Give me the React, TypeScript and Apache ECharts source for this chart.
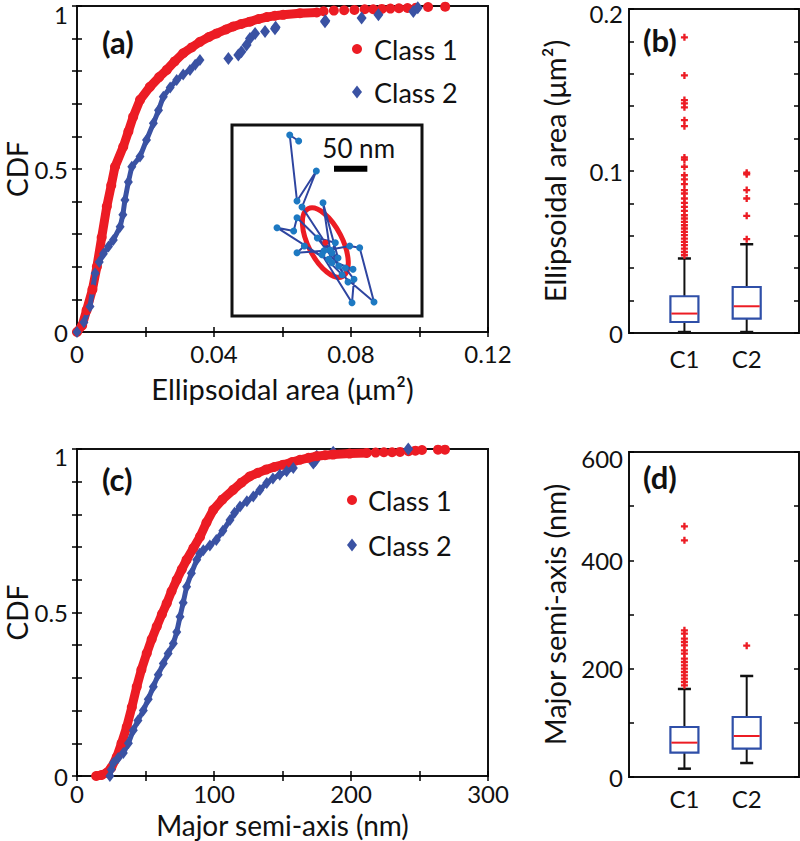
import React, { useEffect, useRef } from 'react';
import * as echarts from 'echarts';

// ---------- data ----------
// Panel (a): CDF of ellipsoidal area (µm²)
const areaClass1Curve = [
  [0, 0], [0.0015, 0.02], [0.0028, 0.067], [0.0045, 0.13], [0.0058, 0.2], [0.0072, 0.29], [0.0087, 0.385],
  [0.01, 0.45], [0.0111, 0.507], [0.0135, 0.568], [0.015, 0.615], [0.0164, 0.66], [0.0184, 0.712],
  [0.0213, 0.752], [0.024, 0.782], [0.0262, 0.804], [0.0285, 0.83], [0.031, 0.855], [0.0335, 0.873],
  [0.0359, 0.89], [0.0385, 0.905], [0.0408, 0.916], [0.0435, 0.928], [0.0456, 0.937], [0.048, 0.945],
  [0.0505, 0.952], [0.053, 0.96], [0.0554, 0.966], [0.0578, 0.97], [0.0602, 0.973], [0.0651, 0.978], [0.07, 0.98],
];
const areaClass1Tail = [
  [0.072, 0.984], [0.075, 0.986], [0.078, 0.987], [0.081, 0.988], [0.084, 0.99], [0.0865, 0.99],
  [0.089, 0.991], [0.0915, 0.992], [0.094, 0.993], [0.0965, 0.994], [0.099, 0.995], [0.1025, 0.997], [0.1075, 0.998],
];
const areaClass2Curve = [
  [0, 0], [0.002, 0.03], [0.0038, 0.078], [0.0053, 0.18], [0.0065, 0.215], [0.0077, 0.24], [0.0092, 0.262],
  [0.0106, 0.282], [0.0126, 0.323], [0.0134, 0.36], [0.014, 0.405], [0.015, 0.46], [0.016, 0.507],
  [0.0184, 0.538], [0.0203, 0.589], [0.0223, 0.64], [0.0238, 0.68], [0.0252, 0.722], [0.0272, 0.75],
  [0.0291, 0.773], [0.031, 0.79], [0.033, 0.804], [0.0345, 0.82], [0.0359, 0.834],
];
const areaClass2Tail = [
  [0.0442, 0.839], [0.0471, 0.85], [0.048, 0.86], [0.0495, 0.88], [0.0505, 0.9], [0.052, 0.916],
  [0.0549, 0.922], [0.0578, 0.93], [0.058, 0.935], [0.0724, 0.952], [0.0725, 0.955], [0.0831, 0.963],
  [0.088, 0.973], [0.0982, 0.983], [0.0995, 0.995],
];

// Panel (c): CDF of major semi-axis (nm)
const axisClass1Curve = [
  [14, 0], [18, 0.003], [21.7, 0.01], [25, 0.025], [29, 0.058], [32.5, 0.1], [36.3, 0.15], [40, 0.21],
  [43.6, 0.273], [47, 0.325], [50.9, 0.375], [54.5, 0.418], [58.2, 0.457], [62, 0.495], [65.5, 0.528],
  [69, 0.565], [72.8, 0.6], [76.5, 0.632], [80, 0.661], [85, 0.697], [89.8, 0.732], [94.5, 0.775],
  [99.5, 0.814], [106, 0.845], [114, 0.875], [120, 0.897], [126, 0.916], [132, 0.927], [138, 0.937],
  [144, 0.945], [150.6, 0.952], [157, 0.96], [162.8, 0.967], [169, 0.973], [175, 0.978], [181, 0.981],
  [187, 0.983], [199, 0.986], [211.5, 0.988],
];
const axisClass1Tail = [
  [218, 0.989], [224, 0.99], [230, 0.99], [235.8, 0.991], [242, 0.993], [247, 0.995], [251.8, 0.997],
  [263.5, 0.998], [268.6, 0.998],
];
const axisClass2Curve = [
  [24, 0], [25, 0.02], [26.5, 0.04], [30, 0.055], [33.8, 0.07], [37.5, 0.1], [41.1, 0.14], [44.5, 0.17],
  [48.4, 0.2], [52, 0.235], [55.7, 0.273], [59.3, 0.31], [63, 0.344], [66.5, 0.375], [70.3, 0.405],
  [72.8, 0.44], [75.2, 0.487], [77.5, 0.53], [80, 0.579], [83.5, 0.62], [87.4, 0.661], [89.5, 0.68],
  [92.2, 0.69], [97, 0.705], [101.7, 0.722], [106.5, 0.75], [111.7, 0.783], [115, 0.805], [119, 0.824],
  [124, 0.84], [128.7, 0.855], [133.5, 0.875], [138.5, 0.896], [143, 0.91], [148, 0.921], [153, 0.932],
  [157.9, 0.942],
];
const axisClass2Tail = [
  [172.5, 0.957], [174, 0.965], [175, 0.978], [187, 0.99], [241.8, 1.0],
];

// Panels (b), (d): box plots [min, Q1, median, Q3, max] and outliers
const boxCategories = ['C1', 'C2'];
const areaBoxC1 = [0.0006, 0.0068, 0.012, 0.0227, 0.046];
const areaBoxC2 = [0.0006, 0.0089, 0.0165, 0.0284, 0.0548];
const areaOutC1 = [
  0.1825, 0.159, 0.1438, 0.1417, 0.1393, 0.1314, 0.1277, 0.1084, 0.1071, 0.1026, 0.0974, 0.0948, 0.0919,
  0.0882, 0.0861, 0.083, 0.0803, 0.0779, 0.0754, 0.0727, 0.0707, 0.0686, 0.0665, 0.0645, 0.0624, 0.0604,
  0.0583, 0.0562, 0.0542, 0.0521, 0.05, 0.048,
];
const areaOutC2 = [0.0989, 0.098, 0.0882, 0.083, 0.0723, 0.0579];
const axisBoxC1 = [15.4, 44.9, 63.4, 92.3, 162.5];
const axisBoxC2 = [25.8, 52.3, 75.7, 110.8, 186.5];
const axisOutC1 = [
  462.8, 436.9, 270.8, 264.6, 255.4, 249.2, 243.1, 233.8, 227.7, 218.5, 212.3, 206.2, 200, 193.8, 187.7,
  181.5, 175.4, 169.2,
];
const axisOutC2 = [242.5];

// Inset: trajectory (nm) and fitted ellipse [cx, cy, semiMinor, semiMajor, tiltDeg]
const insetTrajectory = [
  [100, 262.5], [86.6, 271.5], [97.5, 172.5], [126.5, 217.5], [105, 163.5], [147, 99], [136.5, 170],
  [159, 87], [97.5, 147.5], [92.5, 127.5], [67.5, 132.5], [150, 80], [108.5, 105], [97.5, 95], [138, 98],
  [176.5, 105], [191.5, 102.5], [213, 21], [165, 62], [135, 92], [180, 20], [183, 55], [170, 72],
  [181.5, 70], [145, 85], [155, 110], [128, 117], [160, 75], [174, 51], [150, 95],
];
const insetCenter = [[140, 110]];
const insetEllipse = [[140, 110, 25.5, 57, 27]];
const scaleBar = [[153, 221, 50]];

// tick labels
const areaTicksX = [0, 0.04, 0.08, 0.12];
const axisTicksX = [0, 100, 200, 300];
const cdfTicksY = [0, 0.5, 1];
const areaBoxTicksY = [0, 0.1, 0.2];
const axisBoxTicksY = [0, 200, 400, 600];

// ---------- styling ----------
const FONT = 'Lato';
const RED = '#EC1C24';
const BLUE = '#3A52A3';
const BOX_BLUE = '#2F4FA8';
const TXT = '#111';

const fmt = (v: number) => String(parseFloat(Number(v).toFixed(4)));
const tick = { show: true, inside: true, length: 5, lineStyle: { color: '#000', width: 1.5 } };
const lbl = { fontFamily: FONT, fontSize: 24, lineHeight: 24, color: TXT };
const nameStyle = { fontFamily: FONT, fontSize: 29, lineHeight: 28, color: TXT };
const yNameStyle = { fontFamily: FONT, fontSize: 29, lineHeight: 24, color: TXT };

function mainAxis(gridIndex: number, min: number, max: number, interval: number, labels: number[], extra: any = {}) {
  return {
    type: 'value', gridIndex, min, max, interval, nameMoveOverlap: false,
    axisLine: { show: false }, splitLine: { show: false }, axisTick: tick,
    axisLabel: { ...lbl, margin: 9, customValues: labels, formatter: fmt, showMinLabel: true, showMaxLabel: true },
    ...extra,
  };
}
function mirrorAxis(gridIndex: number, min: number, max: number, interval: number, position: string) {
  return {
    type: 'value', gridIndex, min, max, interval, position,
    axisLine: { show: false }, splitLine: { show: false }, axisTick: tick, axisLabel: { show: false },
  };
}
function boxXAxis(gridIndex: number, margin: number) {
  return {
    type: 'value', gridIndex, min: 0.11, max: 2.84,
    axisLine: { show: false }, splitLine: { show: false }, axisTick: { show: false },
    axisLabel: { ...lbl, margin, customValues: [1, 2], formatter: (v: number) => boxCategories[Math.round(v) - 1] },
  };
}
const topShift = (top: number) => (v: number) =>
  Math.abs(v - top) < 1e-9 ? `{t|${fmt(v)}}` : fmt(v);
const richTop = (shift: number) => ({ t: { ...lbl, padding: [shift * 2, 0, 0, 0] } });

const renderBox = (params: any, api: any) => {
  const x = api.value(0);
  const pMin = api.coord([x, api.value(1)]);
  const pQ1 = api.coord([x, api.value(2)]);
  const pMed = api.coord([x, api.value(3)]);
  const pQ3 = api.coord([x, api.value(4)]);
  const pMax = api.coord([x, api.value(5)]);
  const halfW = api.size([0.225, 0])[0];
  const capW = api.size([0.105, 0])[0];
  const cx = pMin[0];
  const black = { stroke: '#111', lineWidth: 2 };
  return {
    type: 'group',
    children: [
      { type: 'line', shape: { x1: cx, y1: pQ3[1], x2: cx, y2: pMax[1] }, style: black },
      { type: 'line', shape: { x1: cx, y1: pQ1[1], x2: cx, y2: pMin[1] }, style: black },
      { type: 'line', shape: { x1: cx - capW, y1: pMax[1], x2: cx + capW, y2: pMax[1] }, style: { stroke: '#111', lineWidth: 2.5 } },
      { type: 'line', shape: { x1: cx - capW, y1: pMin[1], x2: cx + capW, y2: pMin[1] }, style: { stroke: '#111', lineWidth: 2.5 } },
      { type: 'rect', shape: { x: cx - halfW, y: pQ3[1], width: 2 * halfW, height: pQ1[1] - pQ3[1] }, style: { fill: '#fff', stroke: BOX_BLUE, lineWidth: 2.2 } },
      { type: 'line', shape: { x1: cx - halfW + 1, y1: pMed[1], x2: cx + halfW - 1, y2: pMed[1] }, style: { stroke: RED, lineWidth: 2 } },
    ],
  };
};

const renderEllipse = (params: any, api: any) => {
  const c = api.coord([api.value(0), api.value(1)]);
  const rx = api.size([api.value(2), 0])[0];
  const ry = api.size([0, api.value(3)])[1];
  return {
    type: 'ellipse', x: c[0], y: c[1], rotation: (api.value(4) * Math.PI) / 180,
    shape: { cx: 0, cy: 0, rx, ry },
    style: { fill: 'none', stroke: RED, lineWidth: 5 },
  };
};

const renderScaleBar = (params: any, api: any) => {
  const p = api.coord([api.value(0), api.value(1)]);
  const w = api.size([api.value(2), 0])[0];
  return {
    type: 'group',
    children: [
      { type: 'rect', shape: { x: p[0], y: p[1] - 3, width: w, height: 6 }, style: { fill: '#000' } },
      {
        type: 'text', x: p[0] + w / 2 + 8, y: p[1] - 8,
        style: { text: `${api.value(2)} nm`, fill: TXT, fontFamily: FONT, fontSize: 26, align: 'center', verticalAlign: 'bottom' },
      },
    ],
  };
};

const plusSymbol = 'path://M2,0H4V2H6V4H4V6H2V4H0V2H2Z';

const boxData = (a: number[], b: number[]) => [[1, ...a], [2, ...b]];
const outData = (a: number[], b: number[]) => [...a.map((v) => [1, v]), ...b.map((v) => [2, v])];

const cdfSeries = (xi: number, yi: number, c1: number[][], c1t: number[][], c2: number[][], c2t: number[][]) => [
  {
    name: 'Class 1', type: 'line', xAxisIndex: xi, yAxisIndex: yi, data: c1,
    symbol: 'circle', symbolSize: 10, color: RED,
    lineStyle: { color: RED, width: 9, cap: 'round', join: 'round' }, itemStyle: { color: RED, opacity: 1 },
  },
  {
    name: 'Class 1', type: 'scatter', xAxisIndex: xi, yAxisIndex: yi, data: c1t,
    symbol: 'circle', symbolSize: 10, itemStyle: { color: RED, opacity: 1 },
  },
  {
    name: 'Class 2', type: 'line', xAxisIndex: xi, yAxisIndex: yi, data: c2,
    symbol: 'diamond', symbolSize: [9, 12], color: BLUE,
    lineStyle: { color: BLUE, width: 5, cap: 'round', join: 'round' }, itemStyle: { color: BLUE, opacity: 1 },
  },
  {
    name: 'Class 2', type: 'scatter', xAxisIndex: xi, yAxisIndex: yi, data: c2t,
    symbol: 'diamond', symbolSize: [10, 13], itemStyle: { color: BLUE, opacity: 1 },
  },
];

const legendCfg = (left: number, top: number, gap: number, pad: number) => ({
  orient: 'vertical', left, top, padding: 0, itemGap: gap, itemWidth: 10, itemHeight: 13,
  selectedMode: false,
  textStyle: { fontFamily: FONT, fontSize: 27, color: TXT, lineHeight: 30, padding: [0, 0, 0, pad] },
  data: [
    { name: 'Class 1', icon: 'circle', itemStyle: { color: RED, opacity: 1 } },
    { name: 'Class 2', icon: 'diamond', itemStyle: { color: BLUE, opacity: 1 } },
  ],
});

const panelTitle = (text: string, left: number, top: number) => ({
  text, left, top, padding: 0,
  textStyle: { fontFamily: FONT, fontSize: 31, fontWeight: 'bold', color: TXT },
});

const gridBox = (left: number, top: number, width: number, height: number, bw = 2, bg = 'transparent') => ({
  left, top, width, height, show: true, borderColor: '#111', borderWidth: bw, backgroundColor: bg,
  containLabel: false, outerBoundsMode: 'none',
});

const option: any = {
  animation: false,
  backgroundColor: '#fff',
  title: [
    panelTitle('(a)', 102, 26),
    panelTitle('(b)', 643, 24),
    panelTitle('(c)', 102, 463),
    panelTitle('(d)', 643, 461),
  ],
  legend: [legendCfg(352, 34, 13, 7), legendCfg(347, 485, 15, 6)],
  grid: [
    gridBox(77, 6, 411, 326),
    gridBox(629, 9, 170, 324),
    gridBox(77, 449, 411, 327),
    gridBox(629, 452, 170, 325),
    gridBox(232, 125, 190, 191, 3, '#fff'),
  ],
  xAxis: [
    mainAxis(0, 0, 0.12, 0.02, areaTicksX, {
      name: 'Ellipsoidal area (μm²)', nameLocation: 'middle', nameGap: 42, nameTextStyle: nameStyle,
    }),
    mirrorAxis(0, 0, 0.12, 0.02, 'top'),
    boxXAxis(1, 13),
    mainAxis(2, 0, 300, 50, axisTicksX, {
      name: 'Major semi-axis (nm)', nameLocation: 'middle', nameGap: 36,
      nameTextStyle: { ...nameStyle, fontSize: 28, lineHeight: 26 },
      axisLabel: { ...lbl, margin: 5, customValues: axisTicksX, formatter: fmt },
    }),
    mirrorAxis(2, 0, 300, 50, 'top'),
    boxXAxis(3, 9),
    { type: 'value', gridIndex: 4, min: 0, max: 285, show: false },
  ],
  yAxis: [
    mainAxis(0, 0, 1, 0.1, cdfTicksY, {
      name: 'CDF', nameLocation: 'middle', nameGap: 48, nameTextStyle: { ...yNameStyle, fontSize: 28 },
      axisLabel: { ...lbl, margin: 9, customValues: cdfTicksY, formatter: topShift(1), rich: richTop(8) },
    }),
    mirrorAxis(0, 0, 1, 0.1, 'right'),
    mainAxis(1, 0, 0.2, 0.02, areaBoxTicksY, {
      name: 'Ellipsoidal area (μm²)', nameLocation: 'middle', nameGap: 63, nameTextStyle: yNameStyle,
      axisLabel: { ...lbl, margin: 6, customValues: areaBoxTicksY, formatter: topShift(0.2), rich: richTop(4) },
    }),
    mirrorAxis(1, 0, 0.2, 0.02, 'right'),
    mainAxis(2, 0, 1, 0.1, cdfTicksY, {
      name: 'CDF', nameLocation: 'middle', nameGap: 48, nameTextStyle: { ...yNameStyle, fontSize: 28 },
      axisLabel: { ...lbl, margin: 9, customValues: cdfTicksY, formatter: topShift(1), rich: richTop(7) },
    }),
    mirrorAxis(2, 0, 1, 0.1, 'right'),
    mainAxis(3, 0, 600, 100, axisBoxTicksY, {
      name: 'Major semi-axis (nm)', nameLocation: 'middle', nameGap: 63, nameTextStyle: yNameStyle,
      axisLabel: { ...lbl, margin: 6, customValues: axisBoxTicksY, formatter: topShift(600), rich: richTop(6) },
    }),
    mirrorAxis(3, 0, 600, 100, 'right'),
    { type: 'value', gridIndex: 4, min: 0, max: 286.5, show: false },
  ],
  series: [
    ...cdfSeries(0, 0, areaClass1Curve, areaClass1Tail, areaClass2Curve, areaClass2Tail),
    {
      name: 'area-box', type: 'custom', xAxisIndex: 2, yAxisIndex: 2, data: boxData(areaBoxC1, areaBoxC2),
      encode: { x: 0, y: [1, 2, 3, 4, 5] }, renderItem: renderBox,
    },
    {
      name: 'area-outliers', type: 'scatter', xAxisIndex: 2, yAxisIndex: 2, data: outData(areaOutC1, areaOutC2),
      symbol: plusSymbol, symbolSize: 7, itemStyle: { color: RED, opacity: 1 },
    },
    ...cdfSeries(3, 4, axisClass1Curve, axisClass1Tail, axisClass2Curve, axisClass2Tail),
    {
      name: 'axis-box', type: 'custom', xAxisIndex: 5, yAxisIndex: 6, data: boxData(axisBoxC1, axisBoxC2),
      encode: { x: 0, y: [1, 2, 3, 4, 5] }, renderItem: renderBox,
    },
    {
      name: 'axis-outliers', type: 'scatter', xAxisIndex: 5, yAxisIndex: 6, data: outData(axisOutC1, axisOutC2),
      symbol: plusSymbol, symbolSize: 7, itemStyle: { color: RED, opacity: 1 },
    },
    {
      name: 'inset-ellipse', type: 'custom', xAxisIndex: 6, yAxisIndex: 8, data: insetEllipse,
      encode: { x: 0, y: 1 }, renderItem: renderEllipse, z: 3,
    },
    {
      name: 'inset-trajectory', type: 'line', xAxisIndex: 6, yAxisIndex: 8, data: insetTrajectory,
      symbol: 'circle', symbolSize: 7, z: 4,
      lineStyle: { color: '#2E45A0', width: 2 }, itemStyle: { color: '#1D79C2', opacity: 1 },
    },
    {
      name: 'inset-center', type: 'scatter', xAxisIndex: 6, yAxisIndex: 8, data: insetCenter,
      symbol: 'circle', symbolSize: 6, itemStyle: { color: RED, opacity: 1 }, z: 5,
    },
    {
      name: 'inset-scale', type: 'custom', xAxisIndex: 6, yAxisIndex: 8, data: scaleBar,
      encode: { x: 0, y: 1 }, renderItem: renderScaleBar, z: 5,
    },
  ],
};

export default function App() {
  const ref = useRef<HTMLDivElement>(null);
  useEffect(() => {
    if (!ref.current) return;
    const chart = echarts.init(ref.current, null, { renderer: 'svg' });
    chart.setOption(option);
    return () => chart.dispose();
  }, []);
  return (
    <div
      ref={ref}
      style={{ position: 'fixed', left: 0, top: 0, width: 800, height: 841, background: '#fff' }}
    />
  );
}
